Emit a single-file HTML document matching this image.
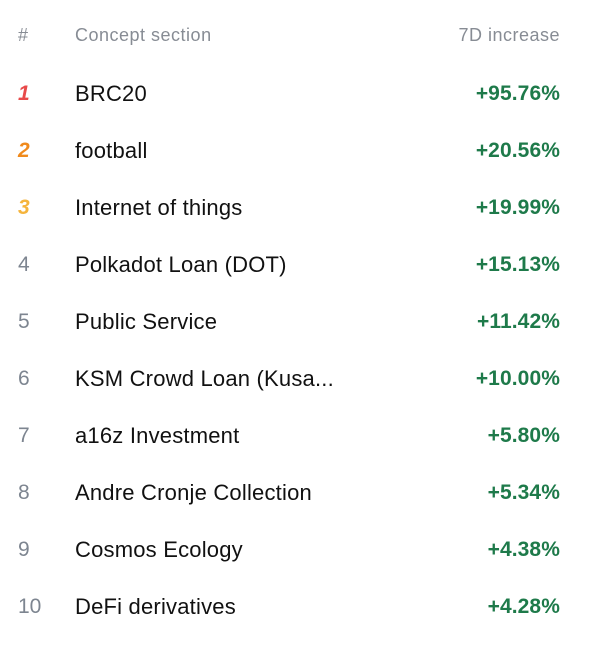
<!DOCTYPE html>
<html><head><meta charset="utf-8"><style>
body{margin:0;width:600px;height:649px;background:#fff;font-family:"Liberation Sans",sans-serif;position:relative;overflow:hidden}
.r{position:absolute;left:0;width:600px;height:30px;line-height:30px}
.n{position:absolute;left:18px;font-size:21px;color:#7d8590}
.t{position:absolute;left:75px;font-size:22px;color:#111;letter-spacing:0.2px}
.v{position:absolute;right:40px;font-size:21px;color:#1e7a4a;font-weight:bold;letter-spacing:0.1px}
.h .n,.h .t,.h .v{font-size:18px;color:#878c94;font-weight:normal;letter-spacing:0.5px}
.i{font-style:italic;font-weight:bold}
</style></head><body>
<div class="r h" style="top:20px"><span class="n">#</span><span class="t">Concept section</span><span class="v">7D increase</span></div>
<div class="r" style="top:79px"><span class="n i" style="color:#e84a4a">1</span><span class="t">BRC20</span><span class="v">+95.76%</span></div>
<div class="r" style="top:136px"><span class="n i" style="color:#f08a1c">2</span><span class="t">football</span><span class="v">+20.56%</span></div>
<div class="r" style="top:193px"><span class="n i" style="color:#f5b43c">3</span><span class="t">Internet of things</span><span class="v">+19.99%</span></div>
<div class="r" style="top:250px"><span class="n">4</span><span class="t">Polkadot Loan (DOT)</span><span class="v">+15.13%</span></div>
<div class="r" style="top:307px"><span class="n">5</span><span class="t">Public Service</span><span class="v">+11.42%</span></div>
<div class="r" style="top:364px"><span class="n">6</span><span class="t">KSM Crowd Loan (Kusa...</span><span class="v">+10.00%</span></div>
<div class="r" style="top:421px"><span class="n">7</span><span class="t">a16z Investment</span><span class="v">+5.80%</span></div>
<div class="r" style="top:478px"><span class="n">8</span><span class="t">Andre Cronje Collection</span><span class="v">+5.34%</span></div>
<div class="r" style="top:535px"><span class="n">9</span><span class="t">Cosmos Ecology</span><span class="v">+4.38%</span></div>
<div class="r" style="top:592px"><span class="n">10</span><span class="t">DeFi derivatives</span><span class="v">+4.28%</span></div>
</body></html>
